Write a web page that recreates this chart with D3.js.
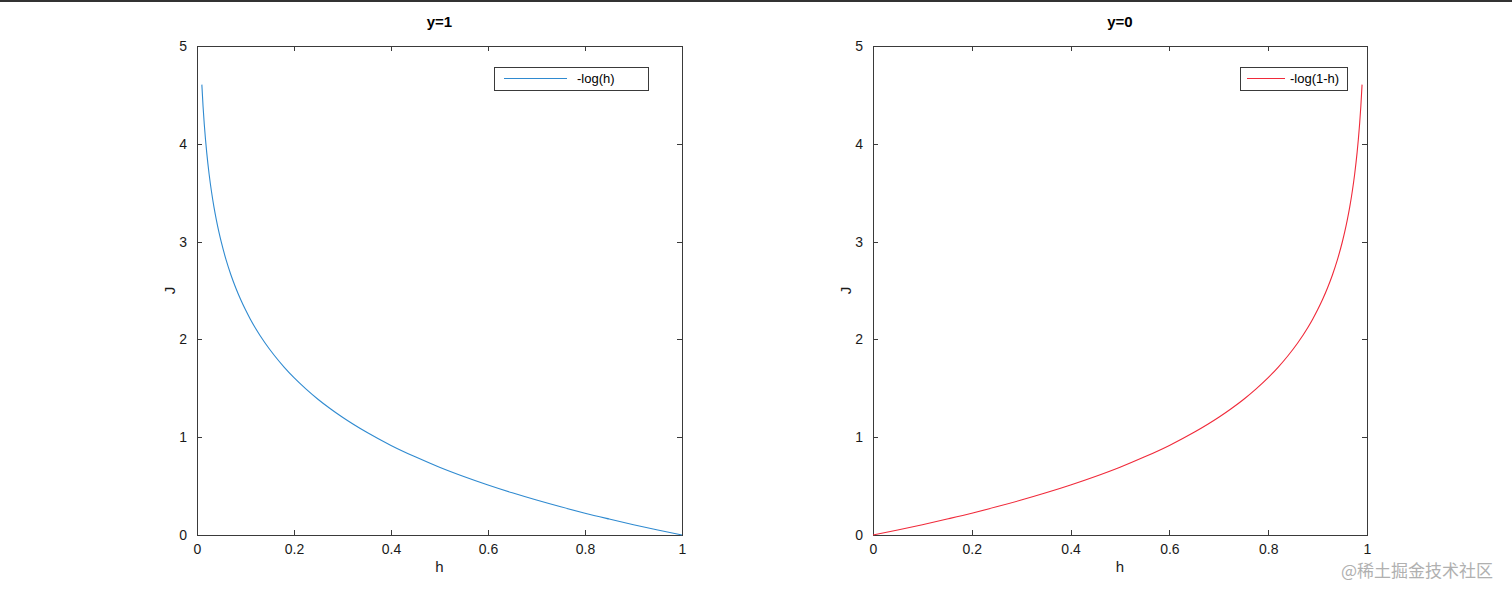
<!DOCTYPE html>
<html><head><meta charset="utf-8">
<script src="https://cdn.jsdelivr.net/npm/d3@7"></script>
<style>body{margin:0;background:#fff;}svg{display:block;}</style>
</head><body>
<svg id="c" width="1512" height="599"></svg>
<script>
const hLeft = [0.01,0.0125,0.015,0.0175,0.02,0.025,0.03,0.035,0.04,0.045,0.05,0.06,0.07,0.08,0.09,0.1,0.11,0.12,0.14,0.16,0.18,0.2,0.225,0.25,0.275,0.3,0.35,0.4,0.45,0.5,0.55,0.6,0.65,0.7,0.75,0.8,0.85,0.9,0.95,1.0];
const jLeft = [4.605,4.382,4.200,4.046,3.912,3.689,3.507,3.352,3.219,3.101,2.996,2.813,2.659,2.526,2.408,2.303,2.207,2.120,1.966,1.833,1.715,1.609,1.492,1.386,1.291,1.204,1.050,0.916,0.799,0.693,0.598,0.511,0.431,0.357,0.288,0.223,0.163,0.105,0.051,0];
const hRight = [0,0.05,0.1,0.15,0.2,0.25,0.3,0.35,0.4,0.45,0.5,0.55,0.6,0.65,0.7,0.725,0.75,0.775,0.8,0.82,0.84,0.86,0.88,0.89,0.9,0.91,0.92,0.93,0.94,0.95,0.955,0.96,0.965,0.97,0.975,0.98,0.9825,0.985,0.9875,0.99];
const jRight = [0,0.051,0.105,0.163,0.223,0.288,0.357,0.431,0.511,0.598,0.693,0.799,0.916,1.050,1.204,1.291,1.386,1.492,1.609,1.715,1.833,1.966,2.120,2.207,2.303,2.408,2.526,2.659,2.813,2.996,3.101,3.219,3.352,3.507,3.689,3.912,4.046,4.200,4.382,4.605];
const xTicks = [0,0.2,0.4,0.6,0.8,1];
const yTicks = [0,1,2,3,4,5];
const titles = ["y=1","y=0"];
const legends = ["-log(h)","-log(1-h)"];
const colors = ["#2f8ad0","#f02a3a"];

const svg = d3.select("#c");
const font = "'Liberation Sans', Arial, sans-serif";
svg.append("rect").attr("x",0).attr("y",0).attr("width",1512).attr("height",2).attr("fill","#333");

const panels = [
  {x0:197, x1:682, h:hLeft, j:jLeft, title:titles[0], leg:legends[0], col:colors[0], lx0:494, lx1:648, ll0:504, ll1:567, lt:577},
  {x0:873, x1:1367, h:hRight, j:jRight, title:titles[1], leg:legends[1], col:colors[1], lx0:1240, lx1:1347, ll0:1247, ll1:1285, lt:1290}
];
const y0 = 535, y1 = 46;
const axCol = "#3a3a3a";

panels.forEach(p => {
  const x = d3.scaleLinear().domain([0,1]).range([p.x0,p.x1]);
  const y = d3.scaleLinear().domain([0,5]).range([y0,y1]);
  const g = svg.append("g");
  g.append("rect").attr("x",p.x0).attr("y",y1).attr("width",p.x1-p.x0).attr("height",y0-y1)
    .attr("fill","none").attr("stroke",axCol).attr("stroke-width",1).attr("shape-rendering","crispEdges");
  const fmt = d => String(d);
  const bx = g.append("g").attr("transform",`translate(0,${y0})`)
    .call(d3.axisBottom(x).tickValues(xTicks).tickSize(-5).tickPadding(9).tickFormat(fmt));
  const tx = g.append("g").attr("transform",`translate(0,${y1})`)
    .call(d3.axisTop(x).tickValues(xTicks).tickSize(-5).tickFormat(""));
  const ly = g.append("g").attr("transform",`translate(${p.x0},0)`)
    .call(d3.axisLeft(y).tickValues(yTicks).tickSize(-5).tickPadding(10).tickFormat(fmt));
  const ry = g.append("g").attr("transform",`translate(${p.x1},0)`)
    .call(d3.axisRight(y).tickValues(yTicks).tickSize(-5).tickFormat(""));
  [bx,tx,ly,ry].forEach(a=>{
    a.select(".domain").remove();
    a.selectAll("line").attr("stroke",axCol).attr("shape-rendering","crispEdges");
    a.selectAll("text").attr("fill","#1a1a1a").style("font-family",font).style("font-size","14px");
  });
  const pts = p.h.map((v,i)=>[v,p.j[i]]);
  g.append("path").datum(pts).attr("fill","none").attr("stroke",p.col).attr("stroke-width",1.1)
    .attr("d", d3.line().x(d=>x(d[0])).y(d=>y(d[1])).curve(d3.curveMonotoneX));
  g.append("text").attr("x",(p.x0+p.x1)/2).attr("y",27).attr("text-anchor","middle")
    .style("font-family",font).style("font-size","15px").style("font-weight","bold").attr("fill","#000").text(p.title);
  g.append("text").attr("x",(p.x0+p.x1)/2).attr("y",572).attr("text-anchor","middle")
    .style("font-family",font).style("font-size","15px").attr("fill","#1a1a1a").text("h");
  g.append("text").attr("transform",`translate(${p.x0-22},${(y0+y1)/2}) rotate(-90)`).attr("text-anchor","middle")
    .style("font-family",font).style("font-size","15px").attr("fill","#1a1a1a").text("J");
  g.append("rect").attr("x",p.lx0).attr("y",67).attr("width",p.lx1-p.lx0).attr("height",23)
    .attr("fill","#fff").attr("stroke",axCol).attr("stroke-width",1).attr("shape-rendering","crispEdges");
  g.append("line").attr("x1",p.ll0).attr("x2",p.ll1).attr("y1",78.5).attr("y2",78.5)
    .attr("stroke",p.col).attr("stroke-width",1.1);
  g.append("text").attr("x",p.lt).attr("y",83).style("font-family",font).style("font-size","13px")
    .attr("fill","#000").text(p.leg);
});
svg.append("text").attr("x",1493).attr("y",577).attr("text-anchor","end")
  .style("font-family","'Noto Sans CJK SC', sans-serif").style("font-size","17px").attr("fill","#b0b0b0").text("@稀土掘金技术社区");
</script>
</body></html>
